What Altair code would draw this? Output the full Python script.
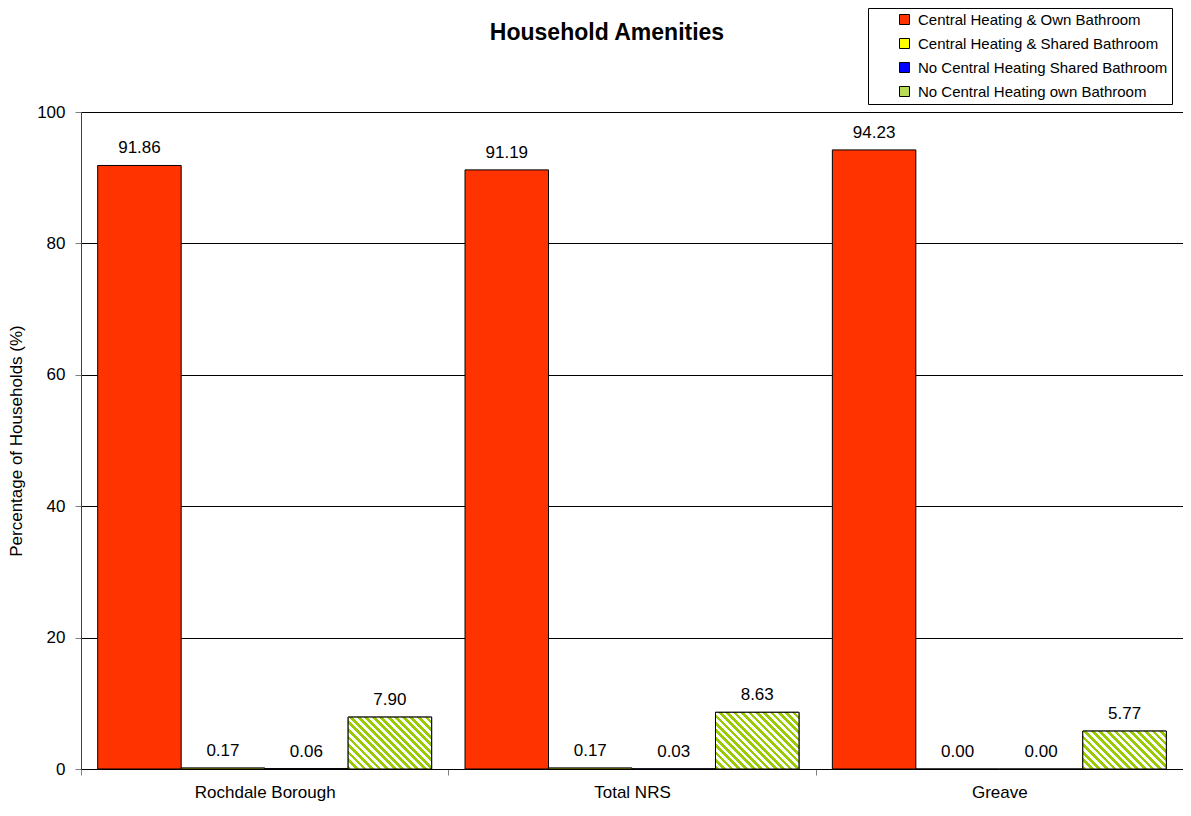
import altair as alt
import pandas as pd

groups = ["Rochdale Borough", "Total NRS", "Greave"]
series = [
    "Central Heating & Own Bathroom",
    "Central Heating & Shared Bathroom",
    "No Central Heating Shared Bathroom",
    "No Central Heating own Bathroom",
]
ch_own_bath = [91.86, 91.19, 94.23]
ch_shared_bath = [0.17, 0.17, 0.00]
noch_shared_bath = [0.06, 0.03, 0.00]
noch_own_bath = [7.90, 8.63, 5.77]
y_ticks = [0, 20, 40, 60, 80, 100]

colors = ["#FF3300", "#FFFF00", "#0000FF", "#B8DB55"]
hatch_green = "#99CC00"
FONT = "Liberation Sans"

rows = []
for i, g in enumerate(groups):
    for s, vals in zip(series, [ch_own_bath, ch_shared_bath, noch_shared_bath, noch_own_bath]):
        rows.append({"group": g, "series": s, "value": vals[i]})
df = pd.DataFrame(rows)

W, H = 1102, 657
PAD_OUT = 0.2

x_enc = alt.X(
    "group:N", sort=groups,
    scale=alt.Scale(paddingInner=0, paddingOuter=0),
    axis=alt.Axis(title=None, tickBand="extent", labelAngle=0, labelFontSize=17,
                  labelFont=FONT, labelColor="black", tickColor="#808080",
                  tickSize=6, labelPadding=9, domainColor="black", grid=False),
)
xo_enc = alt.XOffset("series:N", sort=series,
                     scale=alt.Scale(paddingInner=0, paddingOuter=PAD_OUT))
y_enc = alt.Y(
    "value:Q",
    scale=alt.Scale(domain=[0, 100], nice=False),
    axis=alt.Axis(values=y_ticks, title="Percentage of Households (%)",
                  titleFontSize=17, titleFont=FONT, titleFontWeight="normal",
                  titleColor="black", titlePadding=11,
                  labelFontSize=17, labelFont=FONT, labelColor="black",
                  labelPadding=10, tickSize=6, tickColor="#808080",
                  domainColor="#404040", grid=True, gridColor="black",
                  gridWidth=1, gridOpacity=1),
)

bars = alt.Chart(df).mark_bar(stroke="black", strokeWidth=1).encode(
    x=x_enc, xOffset=xo_enc, y=y_enc,
    color=alt.Color(
        "series:N", sort=series,
        scale=alt.Scale(domain=series, range=colors),
        legend=alt.Legend(
            title=None, orient="none", legendX=787, legendY=-104,
            direction="vertical", padding=4, strokeColor="black",
            fillColor="white", labelFontSize=15, labelFont=FONT,
            labelColor="black", labelLimit=400, labelOffset=6,
            labelExpr="datum.label + '     '",
            symbolType="square", symbolSize=100, symbolStrokeColor="black",
            symbolStrokeWidth=1, symbolOpacity=1, rowPadding=8,
            symbolOffset=25,
        ),
    ),
)

# hatched overlay for the last series (diagonal stripes via hard-stop gradient)
bar_w = (W / len(groups)) / (len(series) + 2 * PAD_OUT)
hatch_layers = []
for i, g in enumerate(groups):
    h = noch_own_bath[i] / 100 * H
    w = bar_w
    a = (w + h) / (w * w + h * h)
    n = max(1, round((w + h) / 7.5))
    stops = []
    for k in range(n):
        stops += [
            {"offset": k / n, "color": hatch_green},
            {"offset": (k + 0.5) / n, "color": hatch_green},
            {"offset": (k + 0.5) / n, "color": "white"},
            {"offset": (k + 1) / n, "color": "white"},
        ]
    grad = {"gradient": "linear", "x1": 0, "y1": 1, "x2": a * w, "y2": 1 - a * h,
            "stops": stops}
    layer = alt.Chart(df).mark_bar(fill=grad, stroke="black", strokeWidth=1).encode(
        x=x_enc, xOffset=xo_enc, y=y_enc
    ).transform_filter(
        (alt.datum.group == g) & (alt.datum.series == series[3])
    )
    hatch_layers.append(layer)

labels = alt.Chart(df).mark_text(
    dy=-17, fontSize=17, font=FONT, color="black", baseline="middle"
).encode(
    x=x_enc, xOffset=xo_enc, y=y_enc,
    text=alt.Text("value:Q", format=".2f"),
)

chart = alt.layer(bars, *hatch_layers, labels).properties(
    width=W, height=H,
    title=alt.TitleParams("Household Amenities", fontSize=23, font=FONT,
                          fontWeight="bold", color="black", anchor="middle",
                          frame="group", dx=-25, offset=-37),
    padding={"left": 73, "top": 104, "right": 0, "bottom": 33},
    autosize=alt.AutoSizeParams(type="none"),
).configure_view(stroke="#808080", strokeWidth=1)

chart.save("out.html", embed_options={"renderer": "svg", "actions": False})
